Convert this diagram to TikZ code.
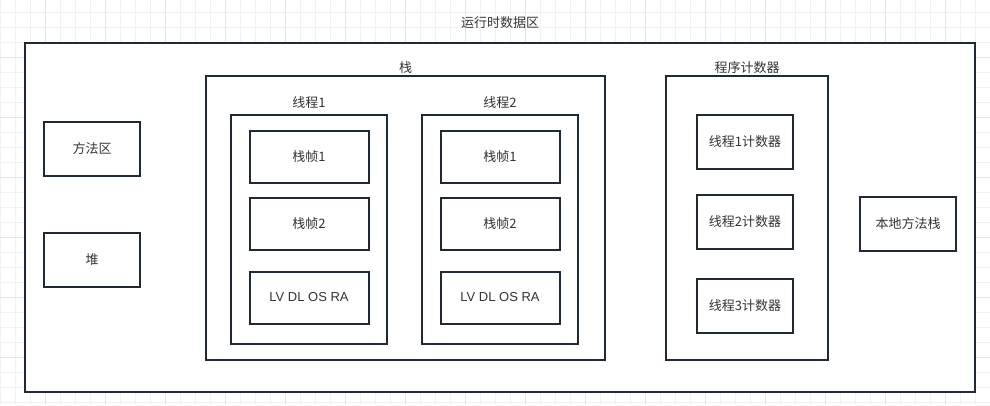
\documentclass[tikz,border=0pt]{standalone}
\usepackage{fontspec}
\setmainfont{Noto Sans CJK SC}
\newfontfamily\latinsans{Liberation Sans}
\usetikzlibrary{positioning}
\definecolor{edge}{HTML}{1F2A35}
\definecolor{txt}{HTML}{333333}
\definecolor{gridlo}{HTML}{F1F1F1}
\definecolor{gridhi}{HTML}{E4E4E4}
\tikzset{box/.style={draw=edge, line width=1.5pt, fill=white, text=txt,
    font=\fontsize{9.75}{12}\selectfont, inner sep=0pt},
  boxtitle/.style={text=txt, font=\fontsize{9.75}{12}\selectfont, inner sep=1pt}}

\begin{document}
\begin{tikzpicture}[x=0.75pt, y=-0.75pt]
  \useasboundingbox (0,0) rectangle (990,405);
  % background grid
  \foreach \gx in {0,15,...,990} \draw[gridlo, line width=0.75pt] (\gx,0) -- (\gx,405);
  \foreach \gy in {12,27,...,405} \draw[gridlo, line width=0.75pt] (0,\gy) -- (990,\gy);
  \foreach \gx in {45,105,...,990} \draw[gridhi, line width=0.75pt] (\gx,0) -- (\gx,405);
  \foreach \gy in {57,117,...,405} \draw[gridhi, line width=0.75pt] (0,\gy) -- (990,\gy);
  % runtime data area
  \node[box, minimum width=712.5pt, minimum height=261.75pt] (rda) at (500,217.5) {};
  \node[boxtitle, above=8.5pt of rda] (rdat) {运行时数据区};
  \node[box, minimum width=72pt, minimum height=40.5pt] (method) at (92,149) {方法区};
  \node[box, minimum width=72pt, minimum height=40.5pt] (heap) at (92,260) {堆};
  % stack with two threads
  \node[box, minimum width=299.25pt, minimum height=213pt] (stk) at (405.5,218) {};
  \node[boxtitle, above=0pt of stk] (stkt) {栈};
  \foreach \t/\cx in {1/309,2/500} {
    \node[box, minimum width=117pt, minimum height=171.75pt] (th\t) at (\cx,229.5) {};
    \node[boxtitle, above=3pt of th\t] (th\t t) {线程\t};
    \node[box, minimum width=89.25pt, minimum height=39pt] (fa\t) at (\cx,157) {栈帧1};
    \node[box, minimum width=89.25pt, minimum height=39pt] (fb\t) at (\cx,223.5) {栈帧2};
    \node[box, minimum width=89.25pt, minimum height=39pt] (fc\t) at (\cx,297.5) {\latinsans LV DL OS RA};
  }
  % program counters
  \node[box, minimum width=121.5pt, minimum height=213pt] (pc) at (747,218) {};
  \node[boxtitle, above=0pt of pc] (pct) {程序计数器};
  \foreach \t/\cy in {1/141.5,2/222,3/306}
    \node[box, minimum width=72pt, minimum height=40.5pt] (pc\t) at (745,\cy) {线程\t 计数器};
  % native method stack
  \node[box, minimum width=72pt, minimum height=40.5pt] (native) at (908,224) {本地方法栈};
\end{tikzpicture}
\end{document}
